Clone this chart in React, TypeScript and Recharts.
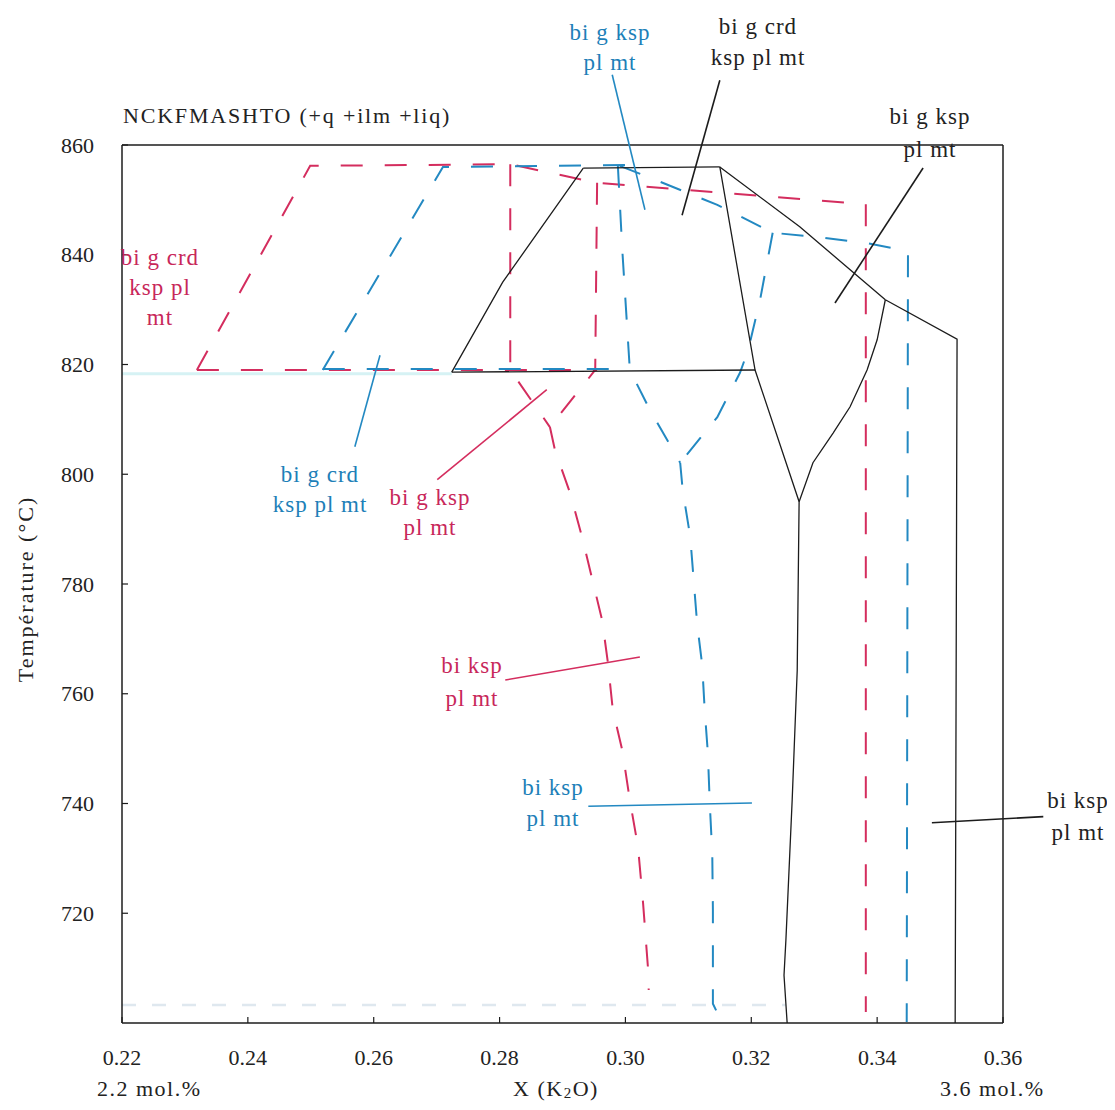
import { LineChart, Line, XAxis, YAxis, ReferenceLine } from "recharts";

type Pt = { x: number; y: number };

const W = 1100;
const H = 1100;
const PLOT = { left: 114, top: 137, right: 995, bottom: 1015 };

const INK = "#1c1c1c";
const RED = "#d42d5e";
const BLUE = "#2389c2";
const RED_TEXT = "#c8275a";
const BLUE_TEXT = "#1d80b8";
const FONT = "'Liberation Serif', 'Times New Roman', serif";

const xTicks = [0.22, 0.24, 0.26, 0.28, 0.3, 0.32, 0.34, 0.36];
const yTicks = [720, 740, 760, 780, 800, 820, 840, 860];

// black solid boundaries
const blackLeft: Pt[] = [{ x: 0.2724, y: 818.6 }, { x: 0.2805, y: 835.0 }, { x: 0.2933, y: 855.8 }];
const blackTop: Pt[] = [{ x: 0.2933, y: 855.8 }, { x: 0.315, y: 856.0 }];
const blackUpperRight: Pt[] = [{ x: 0.315, y: 856.0 }, { x: 0.3277, y: 845.1 }, { x: 0.3413, y: 831.8 }];
const blackFarRight: Pt[] = [{ x: 0.3413, y: 831.8 }, { x: 0.3527, y: 824.6 }, { x: 0.3524, y: 700 }];
const blackCentre: Pt[] = [
  { x: 0.315, y: 856.0 }, { x: 0.3206, y: 819.0 }, { x: 0.3276, y: 795.0 }, { x: 0.3273, y: 764.3 },
  { x: 0.3265, y: 740.7 }, { x: 0.3255, y: 715.1 }, { x: 0.3252, y: 708.7 }, { x: 0.3257, y: 700 },
];
const blackIsobar: Pt[] = [{ x: 0.2724, y: 818.6 }, { x: 0.3206, y: 819.0 }];
const blackCurve: Pt[] = [
  { x: 0.3413, y: 831.8 }, { x: 0.34, y: 824.5 }, { x: 0.3384, y: 819.0 }, { x: 0.3357, y: 812.3 },
  { x: 0.333, y: 807.5 }, { x: 0.3298, y: 802.1 }, { x: 0.3276, y: 795.0 },
];

// red dashed boundaries
const redOuter: Pt[] = [
  { x: 0.2319, y: 819.0 }, { x: 0.2499, y: 856.2 }, { x: 0.2817, y: 856.5 }, { x: 0.2955, y: 853.1 },
  { x: 0.3382, y: 849.2 }, { x: 0.3382, y: 702.0 },
];
const redIsobar: Pt[] = [{ x: 0.2319, y: 819.0 }, { x: 0.2955, y: 819.0 }];
const redInnerLeft: Pt[] = [{ x: 0.2817, y: 856.5 }, { x: 0.2817, y: 819.0 }, { x: 0.288, y: 808.6 }];
const redInnerRight: Pt[] = [{ x: 0.2955, y: 853.1 }, { x: 0.2952, y: 819.0 }, { x: 0.288, y: 808.6 }];
const redLower: Pt[] = [
  { x: 0.288, y: 808.6 }, { x: 0.2888, y: 804.4 }, { x: 0.2912, y: 796.6 }, { x: 0.2931, y: 788.6 },
  { x: 0.2963, y: 773.4 }, { x: 0.2972, y: 765.8 }, { x: 0.298, y: 757.0 }, { x: 0.2995, y: 749.7 },
  { x: 0.3007, y: 740.6 }, { x: 0.302, y: 732.1 }, { x: 0.3028, y: 721.9 }, { x: 0.3036, y: 709.8 },
  { x: 0.3037, y: 706.0 },
];

// blue dashed boundaries
const blueOuter: Pt[] = [{ x: 0.2519, y: 819.0 }, { x: 0.271, y: 856.0 }, { x: 0.3031, y: 856.4 }];
const blueIsobar: Pt[] = [{ x: 0.2519, y: 819.2 }, { x: 0.3007, y: 819.2 }];
const blueInnerLeft: Pt[] = [
  { x: 0.2988, y: 856.2 }, { x: 0.2995, y: 840.9 }, { x: 0.3007, y: 819.0 }, { x: 0.3039, y: 811.7 },
  { x: 0.3087, y: 802.1 },
];
const blueUpperRight: Pt[] = [
  { x: 0.2991, y: 856.2 }, { x: 0.3055, y: 853.3 }, { x: 0.3146, y: 849.1 }, { x: 0.3234, y: 844.0 },
  { x: 0.3309, y: 843.2 }, { x: 0.3384, y: 842.1 }, { x: 0.3449, y: 840.7 }, { x: 0.3447, y: 700.2 },
];
const blueInnerRight: Pt[] = [
  { x: 0.3234, y: 844.0 }, { x: 0.3214, y: 831.8 }, { x: 0.3195, y: 822.6 }, { x: 0.3182, y: 818.5 },
  { x: 0.3146, y: 810.4 }, { x: 0.3087, y: 802.1 },
];
const blueLower: Pt[] = [
  { x: 0.3087, y: 802.1 }, { x: 0.3091, y: 797.1 }, { x: 0.3103, y: 788.6 }, { x: 0.3114, y: 772.7 },
  { x: 0.3122, y: 765.2 }, { x: 0.3126, y: 757.0 }, { x: 0.3131, y: 749.2 }, { x: 0.3134, y: 740.1 },
  { x: 0.3138, y: 730.8 }, { x: 0.3139, y: 720.6 }, { x: 0.3139, y: 703.5 }, { x: 0.3153, y: 700.2 },
];

// faint scan marks
const scanUpper: Pt[] = [{ x: 0.22, y: 818.3 }, { x: 0.2724, y: 818.3 }];
const scanLower: Pt[] = [{ x: 0.22, y: 703.3 }, { x: 0.3255, y: 703.3 }];

// leader lines from field labels
const leaderBlueTop: Pt[] = [{ x: 0.2979, y: 872.8 }, { x: 0.3031, y: 848.2 }];
const leaderBlackTop: Pt[] = [{ x: 0.315, y: 871.8 }, { x: 0.309, y: 847.2 }];
const leaderBlackRightTop: Pt[] = [{ x: 0.3473, y: 855.8 }, { x: 0.3333, y: 831.2 }];
const leaderBlueLeft: Pt[] = [{ x: 0.257, y: 805.0 }, { x: 0.261, y: 821.7 }];
const leaderRedMid: Pt[] = [{ x: 0.2701, y: 799.0 }, { x: 0.2875, y: 815.4 }];
const leaderRedLower: Pt[] = [{ x: 0.2809, y: 762.5 }, { x: 0.3023, y: 766.7 }];
const leaderBlueLower: Pt[] = [{ x: 0.2941, y: 739.5 }, { x: 0.3201, y: 740.1 }];
const leaderBlackLower: Pt[] = [{ x: 0.3487, y: 736.5 }, { x: 0.3664, y: 737.6 }];

function YTick(props: any) {
  const { y, payload } = props;
  return (
    <g>
      <line x1={PLOT.left} x2={PLOT.left + 6} y1={y} y2={y} stroke={INK} strokeWidth={1.2} />
      <text x={PLOT.left - 28} y={y} textAnchor="end" dominantBaseline="central" fontFamily={FONT} fontSize={22} fill="#222">
        {payload.value}
      </text>
    </g>
  );
}

function XTick(props: any) {
  const { x, payload } = props;
  return (
    <g>
      <line x1={x} x2={x} y1={PLOT.bottom} y2={PLOT.bottom - 6} stroke={INK} strokeWidth={1.2} />
      <text x={x} y={PLOT.bottom + 34} textAnchor="middle" dominantBaseline="central" fontFamily={FONT} fontSize={22} fill="#222">
        {Number(payload.value).toFixed(2)}
      </text>
    </g>
  );
}

function Lbl({ x, y, lines, color, gap = 31 }: { x: number; y: number; lines: string[]; color: string; gap?: number }) {
  return (
    <g>
      {lines.map((t, i) => (
        <text key={i} x={x - 8} y={y - 8 + i * gap} textAnchor="middle" dominantBaseline="central" fontFamily={FONT} fontSize={23} letterSpacing={1} fill={color}>
          {t}
        </text>
      ))}
    </g>
  );
}

export default function App() {
  const dashed = "22 22";
  const series: { data: Pt[]; color: string; dash?: string; width: number }[] = [
    { data: scanUpper, color: "#d6f2f4", width: 3 },
    { data: scanLower, color: "#dfe8ef", dash: "14 16", width: 2.5 },
    { data: redOuter, color: RED, dash: dashed, width: 2 },
    { data: redIsobar, color: RED, dash: dashed, width: 2 },
    { data: redInnerLeft, color: RED, dash: dashed, width: 2 },
    { data: redInnerRight, color: RED, dash: dashed, width: 2 },
    { data: redLower, color: RED, dash: dashed, width: 2 },
    { data: blueOuter, color: BLUE, dash: dashed, width: 2 },
    { data: blueIsobar, color: BLUE, dash: dashed, width: 2 },
    { data: blueInnerLeft, color: BLUE, dash: dashed, width: 2 },
    { data: blueUpperRight, color: BLUE, dash: dashed, width: 2 },
    { data: blueInnerRight, color: BLUE, dash: dashed, width: 2 },
    { data: blueLower, color: BLUE, dash: dashed, width: 2 },
    { data: blackLeft, color: INK, width: 1.3 },
    { data: blackTop, color: INK, width: 1.3 },
    { data: blackUpperRight, color: INK, width: 1.3 },
    { data: blackFarRight, color: INK, width: 1.3 },
    { data: blackCentre, color: INK, width: 1.3 },
    { data: blackIsobar, color: INK, width: 1.3 },
    { data: blackCurve, color: INK, width: 1.3 },
  ];
  const leaders: { data: Pt[]; color: string }[] = [
    { data: leaderBlueTop, color: BLUE },
    { data: leaderBlackTop, color: INK },
    { data: leaderBlackRightTop, color: INK },
    { data: leaderBlueLeft, color: BLUE },
    { data: leaderRedMid, color: RED },
    { data: leaderRedLower, color: RED },
    { data: leaderBlueLower, color: BLUE },
    { data: leaderBlackLower, color: INK },
  ];

  return (
    <div style={{ position: "relative", width: W, height: H, background: "#fff" }}>
      <LineChart width={W} height={H} margin={{ top: PLOT.top, right: W - PLOT.right, bottom: 25, left: 0 }}>
        <XAxis
          type="number"
          dataKey="x"
          domain={[0.22, 0.36]}
          ticks={xTicks}
          height={60}
          axisLine={{ stroke: INK, strokeWidth: 1.5 }}
          tickLine={false}
          tick={<XTick />}
          interval={0}
        />
        <YAxis
          type="number"
          dataKey="y"
          domain={[700, 860]}
          ticks={yTicks}
          width={PLOT.left}
          axisLine={{ stroke: INK, strokeWidth: 1.5 }}
          tickLine={false}
          tick={<YTick />}
          interval={0}
        />
        <ReferenceLine y={860} stroke={INK} strokeWidth={1.5} />
        <ReferenceLine x={0.36} stroke={INK} strokeWidth={1.5} />
        {series.map((s, i) => (
          <Line
            key={i}
            data={s.data}
            dataKey="y"
            type="linear"
            stroke={s.color}
            strokeWidth={s.width}
            strokeDasharray={s.dash}
            dot={false}
            activeDot={false}
            isAnimationActive={false}
          />
        ))}
        {leaders.map((l, i) => (
          <ReferenceLine
            key={"l" + i}
            segment={[l.data[0], l.data[1]]}
            stroke={l.color}
            strokeWidth={1.6}
            ifOverflow="visible"
          />
        ))}
      </LineChart>
      <svg width={W} height={H} style={{ position: "absolute", left: 0, top: 0, pointerEvents: "none" }}>
        <text x={115} y={107} dominantBaseline="central" fontFamily={FONT} fontSize={22} letterSpacing={1.8} fill="#222">
          NCKFMASHTO (+q +ilm +liq)
        </text>
        <Lbl x={610} y={32} lines={["bi g ksp", "pl mt"]} color={BLUE_TEXT} gap={30} />
        <Lbl x={758} y={26} lines={["bi g crd", "ksp pl mt"]} color="#222" gap={31} />
        <Lbl x={930} y={116} lines={["bi g ksp", "pl mt"]} color="#222" gap={33} />
        <Lbl x={160} y={257} lines={["bi g crd", "ksp pl", "mt"]} color={RED_TEXT} gap={30} />
        <Lbl x={320} y={474} lines={["bi g crd", "ksp pl mt"]} color={BLUE_TEXT} gap={30} />
        <Lbl x={430} y={497} lines={["bi g ksp", "pl mt"]} color={RED_TEXT} gap={30} />
        <Lbl x={472} y={665} lines={["bi ksp", "pl mt"]} color={RED_TEXT} gap={33} />
        <Lbl x={553} y={787} lines={["bi ksp", "pl mt"]} color={BLUE_TEXT} gap={31} />
        <Lbl x={1078} y={800} lines={["bi ksp", "pl mt"]} color="#222" gap={32} />
        <text x={89} y={1080} dominantBaseline="central" fontFamily={FONT} fontSize={22} letterSpacing={1.5} fill="#222">
          2.2 mol.%
        </text>
        <text x={548} y={1080} textAnchor="middle" dominantBaseline="central" fontFamily={FONT} fontSize={22} letterSpacing={1.5} fill="#222">
          X (K<tspan fontSize={15} dy={5}>2</tspan><tspan dy={-5}>O)</tspan>
        </text>
        <text x={932} y={1080} dominantBaseline="central" fontFamily={FONT} fontSize={22} letterSpacing={1.5} fill="#222">
          3.6 mol.%
        </text>
        <text
          x={17}
          y={581}
          transform="rotate(-90 17 581)"
          textAnchor="middle"
          dominantBaseline="central"
          fontFamily={FONT}
          fontSize={22}
          letterSpacing={2}
          fill="#222"
        >
          Température (°C)
        </text>
      </svg>
    </div>
  );
}
